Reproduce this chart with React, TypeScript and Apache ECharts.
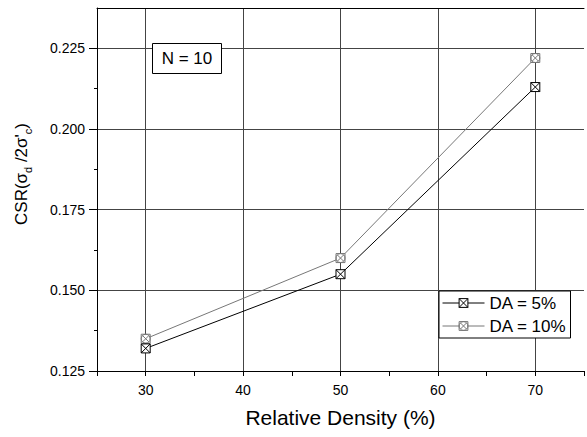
import { useEffect, useRef } from "react";
import * as echarts from "echarts";

// Relative density (%) of the tested specimens
const densities = [30, 50, 70];
// Cyclic stress ratio needed to reach each double amplitude strain at N = 10
const csrDA5 = [0.132, 0.155, 0.213];
const csrDA10 = [0.135, 0.16, 0.222];
const seriesNames = ["DA = 5%", "DA = 10%"];
const xTickLabels = [30, 40, 50, 60, 70];
const yTickLabels = [0.125, 0.15, 0.175, 0.2, 0.225];
const yMinorTicks = [0.1375, 0.1625, 0.1875, 0.2125];

const FONT = "Arial, 'Liberation Sans', sans-serif";

// square with a cross, and square + circle with a cross
const SQUARE_X = "path://M0,0H10V10H0Z M0,0L10,10 M10,0L0,10";
const CIRCLE_X =
  "path://M0,0H10V10H0Z M1.5,1.5L8.5,8.5 M8.5,1.5L1.5,8.5 M10,5A5,5,0,1,1,0,5A5,5,0,1,1,10,5Z";

export default function App() {
  const ref = useRef<HTMLDivElement>(null);

  useEffect(() => {
    if (!ref.current) return;
    const chart = echarts.init(ref.current, undefined, { renderer: "svg" });

    const option: any = {
      animation: false,
      backgroundColor: "#fff",
      textStyle: { fontFamily: FONT },
      grid: { left: 97, top: 8, width: 490, height: 363, containLabel: false },
      xAxis: [
        {
          type: "value",
          min: 25,
          max: 75,
          interval: 5,
          position: "bottom",
          axisLine: { show: true, onZero: false, lineStyle: { color: "#000", width: 1 } },
          axisTick: { show: true, length: 5, lineStyle: { color: "#000" } },
          axisLabel: {
            margin: 12,
            fontSize: 14,
            color: "#000",
            fontFamily: FONT,
            formatter: (v: number) => (xTickLabels.includes(v) ? String(v) : ""),
          },
          splitLine: {
            show: true,
            lineStyle: { color: ["rgba(0,0,0,0)", "#444"], width: 1 },
          },
          name: "Relative Density (%)",
          nameLocation: "middle",
          nameGap: 36,
          nameTextStyle: { fontSize: 21, color: "#000", fontFamily: FONT },
        },
        {
          type: "value",
          min: 25,
          max: 75,
          position: "top",
          axisLine: { show: true, onZero: false, lineStyle: { color: "#000", width: 1 } },
          axisTick: { show: false },
          axisLabel: { show: false },
          splitLine: { show: false },
        },
      ],
      yAxis: [
        {
          type: "value",
          min: 0.125,
          max: 0.2375,
          interval: 0.025,
          position: "left",
          axisLine: { show: true, onZero: false, lineStyle: { color: "#000", width: 1 } },
          axisTick: { show: true, length: 8, customValues: yTickLabels, lineStyle: { color: "#000" } },
          axisLabel: {
            margin: 12,
            fontSize: 14,
            color: "#000",
            fontFamily: FONT,
            showMaxLabel: false,
            formatter: (v: number) => v.toFixed(3),
          },
          splitLine: { show: true, lineStyle: { color: "#444", width: 1 } },
        },
        {
          type: "value",
          min: 0.125,
          max: 0.2375,
          position: "left",
          offset: 0,
          axisLine: { show: false },
          axisTick: { show: true, length: 3, customValues: yMinorTicks, lineStyle: { color: "#000" } },
          axisLabel: { show: false },
          splitLine: { show: false },
        },
      ],
      legend: {
        left: 439,
        top: 291,
        orient: "vertical",
        itemWidth: 42,
        itemHeight: 11,
        itemGap: 3,
        padding: [2, 4, 2, 3],
        borderColor: "#000",
        borderWidth: 1,
        borderRadius: 0,
        backgroundColor: "#fff",
        selectedMode: false,
        itemStyle: { borderWidth: 1 },
        lineStyle: { width: 1 },
        textStyle: { fontSize: 17, color: "#000", lineHeight: 20, fontFamily: FONT },
        data: seriesNames,
      },
      series: [
        {
          name: seriesNames[0],
          type: "line",
          xAxisIndex: 0,
          yAxisIndex: 0,
          data: densities.map((d, i) => [d, csrDA5[i]]),
          symbol: SQUARE_X,
          symbolSize: 9,
          lineStyle: { color: "#000", width: 1 },
          itemStyle: { color: "#fff", borderColor: "#000", borderWidth: 1 },
          z: 4,
        },
        {
          name: seriesNames[1],
          type: "line",
          xAxisIndex: 0,
          yAxisIndex: 0,
          data: densities.map((d, i) => [d, csrDA10[i]]),
          symbol: CIRCLE_X,
          symbolSize: 9,
          lineStyle: { color: "#777", width: 1 },
          itemStyle: { color: "#fff", borderColor: "#777", borderWidth: 1 },
          z: 3,
        },
      ],
      graphic: [
        {
          type: "rect",
          z: 100,
          shape: { x: 152.5, y: 43.5, width: 69, height: 30 },
          style: { fill: "#fff", stroke: "#000", lineWidth: 1 },
        },
        {
          type: "text",
          z: 101,
          x: 187,
          y: 58.5,
          style: {
            text: "N = 10",
            fontSize: 17,
            fontFamily: FONT,
            fill: "#000",
            align: "center",
            verticalAlign: "middle",
          },
        },
        {
          type: "text",
          z: 101,
          x: 21,
          y: 174,
          rotation: Math.PI / 2,
          style: {
            text: "{m|CSR(σ}{s|d}{m| /2σ'}{s|c}{m|)}",
            fill: "#000",
            align: "center",
            verticalAlign: "middle",
            rich: {
              m: { fontSize: 17, fontFamily: FONT, lineHeight: 24, fill: "#000" },
              s: { fontSize: 11, fontFamily: FONT, lineHeight: 11, verticalAlign: "bottom", fill: "#000" },
            },
          },
        },
      ],
    };

    chart.setOption(option);
    return () => chart.dispose();
  }, []);

  return <div ref={ref} style={{ width: 587, height: 437, position: "absolute", left: 0, top: 0 }} />;
}
